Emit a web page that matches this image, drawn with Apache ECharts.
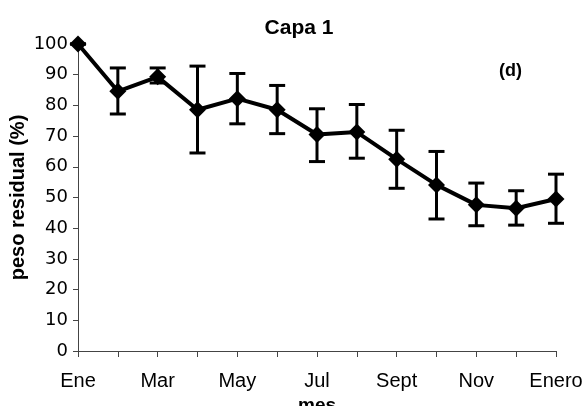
<!DOCTYPE html>
<html>
<head>
<meta charset="utf-8">
<script src="https://cdn.jsdelivr.net/npm/echarts@6/dist/echarts.min.js"></script>
<style>html,body{margin:0;padding:0;background:#fff;overflow:hidden;}#c{width:585px;height:406px;}</style>
</head>
<body>
<div id="c"></div>
<script>
const months = ['Ene','Feb','Mar','Abr','May','Jun','Jul','Ago','Sept','Oct','Nov','Dic','Enero'];
const shownLabels = ['Ene','Mar','May','Jul','Sept','Nov','Enero'];
const means = [100, 84.6, 89.3, 78.6, 82.2, 78.6, 70.5, 71.3, 62.5, 54.1, 47.6, 46.5, 49.5];
const upper = [100, 92.2, 92.2, 92.8, 90.4, 86.5, 78.9, 80.3, 71.9, 65.0, 54.7, 52.2, 57.6];
const lower = [100, 77.2, 87.3, 64.5, 74.0, 70.8, 61.7, 62.8, 53.0, 43.0, 40.8, 41.0, 41.6];
const yTicks = [0,10,20,30,40,50,60,70,80,90,100];

const chart = echarts.init(document.getElementById('c'), null, {renderer:'canvas', width:585, height:406});
const errData = months.map((m,i)=>[i, lower[i], upper[i]]);
const font = 'Liberation Sans, Arial, sans-serif';
chart.setOption({
  animation:false,
  backgroundColor:'#fff',
  title:{text:'Capa 1', left:294, top:13, textAlign:'center',
    textStyle:{fontFamily:font, fontWeight:'bold', fontSize:21, color:'#000'}},
  graphic:[
    {type:'text', left:499, top:62, style:{text:'(d)', font:'bold 18px Liberation Sans, Arial', fill:'#000'}}
  ],
  grid:{left:78, width:478, top:44, height:307, containLabel:false, outerBoundsMode:'none'},
  xAxis:{type:'category', data:months, boundaryGap:false,
    name:'mes', nameLocation:'middle', nameGap:45, nameMoveOverlap:false,
    nameTextStyle:{fontFamily:font, fontWeight:'bold', fontSize:19, color:'#000'},
    axisLine:{lineStyle:{color:'#444', width:1}},
    axisTick:{show:true, interval:0, length:6, lineStyle:{color:'#444'}},
    axisLabel:{interval:0, margin:20, fontFamily:font, fontSize:20, color:'#000',
      formatter:(v)=> shownLabels.includes(v) ? v : ''},
    splitLine:{show:false}},
  yAxis:{type:'value', min:0, max:100, interval:10,
    name:'peso residual (%)', nameLocation:'middle', nameGap:50, nameMoveOverlap:false,
    nameTextStyle:{fontFamily:font, fontWeight:'bold', fontSize:20, color:'#000'},
    axisLine:{show:true, lineStyle:{color:'#444', width:1}},
    axisTick:{show:true, length:5, lineStyle:{color:'#444'}},
    axisLabel:{margin:10, fontFamily:'DejaVu Sans, sans-serif', fontSize:18, color:'#000',
      formatter:(v)=> yTicks.includes(v) ? String(v) : ''},
    splitLine:{show:false}},
  series:[
    {type:'custom', data:errData, z:2,
      renderItem:(params, api)=>{
        const x = api.value(0);
        const lo = api.coord([x, api.value(1)]);
        const hi = api.coord([x, api.value(2)]);
        const hw = 8;
        const st = {stroke:'#000', lineWidth:3};
        return {type:'group', children:[
          {type:'line', shape:{x1:lo[0], y1:lo[1], x2:hi[0], y2:hi[1]}, style:st},
          {type:'line', shape:{x1:lo[0]-hw, y1:lo[1], x2:lo[0]+hw, y2:lo[1]}, style:st},
          {type:'line', shape:{x1:hi[0]-hw, y1:hi[1], x2:hi[0]+hw, y2:hi[1]}, style:st}
        ]};
      }},
    {type:'line', data:means, z:3, symbol:'diamond', symbolSize:17,
      lineStyle:{color:'#000', width:4},
      itemStyle:{color:'#000'}}
  ]
});
</script>
</body>
</html>
